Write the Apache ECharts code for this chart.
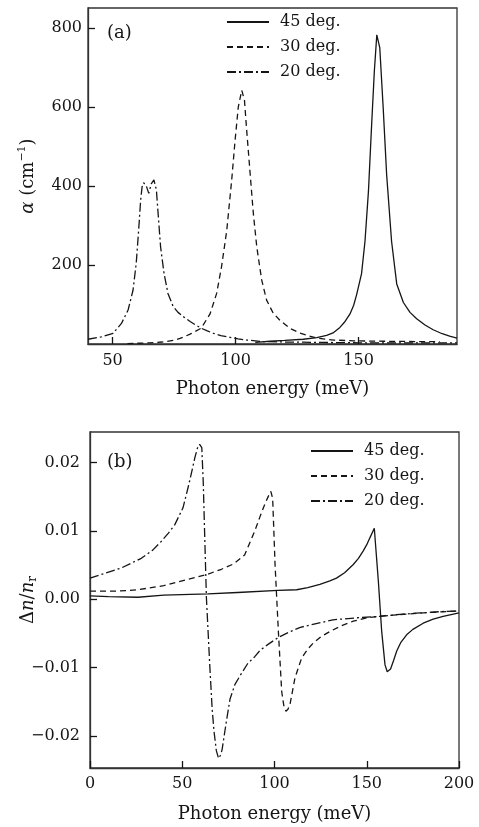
<!DOCTYPE html>
<html>
<head>
<meta charset="utf-8">
<script src="https://cdn.jsdelivr.net/npm/echarts@6/dist/echarts.min.js"></script>
<style>
html,body{margin:0;padding:0;background:#fff;}
#main{width:479px;height:827px;}
</style>
</head>
<body>
<div id="main"></div>
<script>
// ---- Data ----
var seriesNames = ['45 deg.', '30 deg.', '20 deg.'];

// (a) absorption coefficient alpha (cm^-1) vs photon energy (meV)
var alpha45 = [[108,4],[114,7],[120,9],[127.5,12],[133,16],[137,22],[139.6,28],[142.4,42],[144.5,57],[146.5,76],[148,98],[149.2,125],[151.2,178],[152.6,260],[154,386],[155.3,555],[156.4,690],[157.4,782],[158.6,750],[160,597],[161.4,428],[163.4,260],[165.5,152],[168.2,105],[170.9,80],[173.6,64],[177,48],[180.3,36],[184,26],[187,20],[190,15]];
var alpha30 = [[56,1],[65,3],[70,5],[74.7,9],[77.4,14],[81.5,25],[86,40],[89.6,76],[92.3,128],[94.3,196],[96.4,287],[98.4,414],[99.8,516],[101.1,600],[102.5,642],[103.6,617],[104.5,541],[105.9,432],[107.2,331],[108.6,246],[110.6,162],[112.6,111],[115.3,78],[118,60],[122,40],[126,28],[130,20],[134,14],[140,10],[148,8],[160,7],[175,6],[183,6]];
var alpha20 = [[40,12],[45.4,18],[50.2,27],[53.6,52],[56.3,86],[58.3,136],[59.6,204],[60.6,289],[61.4,364],[62,398],[62.6,408],[63.7,400],[64.7,381],[65.7,405],[66.8,415],[67.8,390],[68.5,330],[69.5,246],[70.9,179],[72.5,128],[74.6,95],[76.6,80],[79,68],[81.5,57],[83.5,49],[86,40],[88.5,33],[91,27],[94,21],[97.7,17],[101,13],[104.5,10],[111.3,6],[120,5],[135,4],[150,3],[170,3],[190,3]];

// (b) refractive index change dn/nr vs photon energy (meV)
var dn45 = [[0,0.0005],[10,0.0004],[26,0.0003],[40,0.0006],[64,0.0008],[80,0.001],[101.9,0.0013],[112,0.0014],[118,0.0017],[124.6,0.0022],[130,0.0027],[133.6,0.0031],[138,0.0039],[142.7,0.0051],[145.5,0.006],[148.1,0.0071],[150,0.008],[151.7,0.009],[154.1,0.0104],[155.2,0.0065],[156.3,0.0026],[158.1,-0.0047],[159.9,-0.0096],[161.1,-0.0106],[162,-0.0107],[162.9,-0.0102],[164.5,-0.009],[166.2,-0.0076],[168.5,-0.0063],[171.6,-0.0052],[175,-0.0044],[180.6,-0.0035],[186,-0.0029],[191.4,-0.0025],[200,-0.002]];
var dn30 = [[0,0.0012],[15,0.0012],[26,0.0014],[40,0.002],[53,0.0029],[63,0.0036],[71.2,0.0044],[78,0.0052],[83.8,0.0065],[86.5,0.0082],[89.3,0.01],[92,0.012],[94.7,0.0139],[96.5,0.015],[98,0.0158],[99,0.0148],[100.3,0.0051],[101.2,0.0002],[102.1,-0.0047],[103.9,-0.0135],[105,-0.0155],[106.2,-0.0164],[107.3,-0.0161],[108.4,-0.0154],[111.1,-0.0115],[114.7,-0.0086],[118,-0.0073],[121,-0.0064],[125,-0.0055],[130.1,-0.0047],[136,-0.0039],[142.7,-0.0032],[150,-0.0027],[160,-0.0024],[170,-0.0022],[185,-0.0019],[200,-0.0017]];
var dn20 = [[0,0.0031],[8,0.0038],[17,0.0046],[27.8,0.006],[34,0.0072],[38.7,0.0085],[42.5,0.0097],[45.9,0.0109],[50.4,0.0134],[53.1,0.0163],[55,0.0185],[56.8,0.0207],[58.3,0.0222],[59.4,0.0227],[60.6,0.0222],[61.4,0.017],[62.2,0.009],[63.1,0.0002],[64.9,-0.0096],[66.2,-0.016],[67.2,-0.0193],[68.5,-0.0222],[69.7,-0.0233],[70.8,-0.0228],[71.6,-0.022],[73,-0.0195],[73.9,-0.0179],[75.9,-0.0146],[78.5,-0.0125],[81.3,-0.0112],[85.5,-0.0094],[89.3,-0.0084],[92.1,-0.0075],[96.5,-0.0066],[102,-0.0056],[108,-0.0048],[114,-0.0041],[122,-0.0036],[131.7,-0.003],[145,-0.0027],[157.2,-0.0025],[168,-0.0022],[178.9,-0.002],[190,-0.0018],[200,-0.0017]];

// tick values
var topXTicks = [50, 100, 150];
var topYTicks = [200, 400, 600, 800];
var botXTicks = [0, 50, 100, 150, 200];
var botYTicks = [-0.02, -0.01, 0, 0.01, 0.02];

// ---- Styles ----
var FONT = 'DejaVu Serif';
var INK = '#151515';
var lineTypes = ['solid', [6, 4], [9, 3, 2, 3]];

function mkSeries(name, data, idx, typeIdx) {
  return {
    type: 'line', name: name, data: data,
    xAxisIndex: idx, yAxisIndex: idx,
    symbol: 'none', smooth: false, animation: false,
    lineStyle: { color: INK, width: 1.3, type: lineTypes[typeIdx] },
    itemStyle: { color: INK }
  };
}

var axisLineStyle = { show: true, onZero: false, lineStyle: { color: '#333', width: 1.3 } };
var tickStyle = { show: true, inside: true, length: 7, lineStyle: { color: INK, width: 1.3 } };
var labelStyle = { color: INK, fontFamily: FONT, fontSize: 16 };
var nameStyle = { color: INK, fontFamily: FONT, fontSize: 18 };

function fmtDn(v) {
  var s = Math.abs(v).toFixed(2);
  return (v < -1e-9 ? '\u2212' : '') + s;
}

var legendBase = {
  orient: 'vertical', itemWidth: 42, itemHeight: 14, itemGap: 9, padding: 0,
  selectedMode: false,
  itemStyle: { color: 'transparent', borderColor: 'transparent', borderWidth: 0, opacity: 0 },
  textStyle: { color: INK, fontFamily: FONT, fontSize: 16, padding: [0, 0, 0, 6] },
  data: seriesNames
};

var option = {
  animation: false,
  backgroundColor: '#fff',
  grid: [
    { left: 88, top: 8, width: 369, height: 336, show: true, borderColor: '#333', borderWidth: 1.3, backgroundColor: 'transparent' },
    { left: 90, top: 432, width: 369, height: 336, show: true, borderColor: '#333', borderWidth: 1.3, backgroundColor: 'transparent' }
  ],
  legend: [
    Object.assign({}, legendBase, { left: 226, top: 14 }),
    Object.assign({}, legendBase, { left: 310, top: 443 })
  ],
  xAxis: [
    {
      type: 'value', gridIndex: 0, min: 40, max: 190,
      axisLine: axisLineStyle, splitLine: { show: false },
      axisTick: Object.assign({}, tickStyle, { customValues: topXTicks }),
      axisLabel: Object.assign({}, labelStyle, { margin: 9, customValues: topXTicks }),
      name: 'Photon energy (meV)', nameLocation: 'middle', nameGap: 36, nameMoveOverlap: false, nameTextStyle: nameStyle
    },
    {
      type: 'value', gridIndex: 1, min: 0, max: 200, interval: 50,
      axisLine: axisLineStyle, splitLine: { show: false },
      axisTick: Object.assign({}, tickStyle, { customValues: botXTicks }),
      axisLabel: Object.assign({}, labelStyle, { margin: 8, customValues: botXTicks }),
      name: 'Photon energy (meV)', nameLocation: 'middle', nameGap: 37, nameMoveOverlap: false, nameTextStyle: nameStyle
    }
  ],
  yAxis: [
    {
      type: 'value', gridIndex: 0, min: 0, max: 850,
      axisLine: axisLineStyle, splitLine: { show: false },
      axisTick: Object.assign({}, tickStyle, { customValues: topYTicks }),
      axisLabel: Object.assign({}, labelStyle, { margin: 6, customValues: topYTicks }),
      name: '{i|\u03b1}{t| (cm}{sup|\u22121}{t|)}', nameLocation: 'middle', nameGap: 49, nameMoveOverlap: false,
      nameTextStyle: {
        color: INK, fontFamily: FONT, fontSize: 18,
        rich: {
          t: { fontFamily: FONT, fontSize: 18, color: INK, lineHeight: 22 },
          i: { fontFamily: FONT, fontSize: 18, color: INK, fontStyle: 'italic', lineHeight: 22 },
          sup: { fontFamily: FONT, fontSize: 11, color: INK, verticalAlign: 'top', lineHeight: 12 }
        }
      }
    },
    {
      type: 'value', gridIndex: 1, min: -0.0247, max: 0.0245,
      axisLine: axisLineStyle, splitLine: { show: false },
      axisTick: Object.assign({}, tickStyle, { customValues: botYTicks }),
      axisLabel: Object.assign({}, labelStyle, { margin: 10, customValues: botYTicks, formatter: fmtDn }),
      name: '{t|\u0394}{i|n}{t|/}{i|n}{sub|r}', nameLocation: 'middle', nameGap: 51, nameMoveOverlap: false,
      nameTextStyle: {
        color: INK, fontFamily: FONT, fontSize: 18,
        rich: {
          t: { fontFamily: FONT, fontSize: 18, color: INK, lineHeight: 22 },
          i: { fontFamily: FONT, fontSize: 18, color: INK, fontStyle: 'italic', lineHeight: 22 },
          sub: { fontFamily: FONT, fontSize: 12, color: INK, verticalAlign: 'bottom', lineHeight: 12 }
        }
      }
    }
  ],
  graphic: [
    { type: 'text', left: 107, top: 24, style: { text: '(a)', fill: INK, font: '18px "DejaVu Serif"' } },
    { type: 'text', left: 107, top: 453, style: { text: '(b)', fill: INK, font: '18px "DejaVu Serif"' } }
  ],
  series: [
    mkSeries(seriesNames[0], alpha45, 0, 0),
    mkSeries(seriesNames[1], alpha30, 0, 1),
    mkSeries(seriesNames[2], alpha20, 0, 2),
    mkSeries(seriesNames[0], dn45, 1, 0),
    mkSeries(seriesNames[1], dn30, 1, 1),
    mkSeries(seriesNames[2], dn20, 1, 2)
  ]
};

var chart = echarts.init(document.getElementById('main'), null, { renderer: 'canvas', width: 479, height: 827 });
chart.setOption(option);
</script>
</body>
</html>
